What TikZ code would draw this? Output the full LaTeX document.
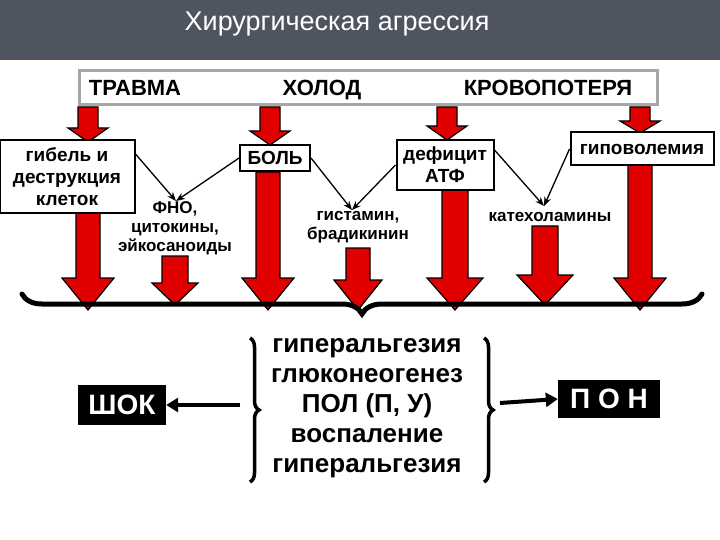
\documentclass[tikz,border=0pt]{standalone}
\usepackage{fontspec}
\setmainfont{Liberation Sans}
\usetikzlibrary{decorations.pathreplacing,arrows.meta}
\definecolor{hdr}{HTML}{4F5461}
\definecolor{arrred}{HTML}{E00000}
\newcommand\redarrow[6]{% x, ytop, ybottom, shaft, headw, headlen
  \draw[blockarr] ({#1-#4/2},#2) -- ({#1-#4/2},{#3-#6}) -- ({#1-#5/2},{#3-#6}) -- (#1,#3)
   -- ({#1+#5/2},{#3-#6}) -- ({#1+#4/2},{#3-#6}) -- ({#1+#4/2},#2) -- cycle;}
\begin{document}
\begin{tikzpicture}[x=1pt,y=-1pt,
  blockarr/.style={fill=arrred,draw=black,line width=1.2pt,line join=miter},
  bx/.style={draw=black,line width=2pt,fill=white,font=\bfseries\fontsize{19}{22}\selectfont,align=center,inner sep=2pt},
  lbl/.style={font=\bfseries\fontsize{17}{19}\selectfont,align=center},
  mid/.style={font=\bfseries\fontsize{26}{30}\selectfont,align=center},
  thin/.style={-{Stealth[length=9pt,width=7pt]},line width=1.3pt},
  tops/.style={font=\bfseries\fontsize{22}{24}\selectfont,anchor=base},
  brc/.style={decorate,line width=5pt,line cap=round}]
\useasboundingbox (0,0) rectangle (720,540);
\fill[white] (0,0) rectangle (720,540);
\fill[hdr] (0,0) rectangle (720,60);
\node[text=white,font=\fontsize{27}{30}\selectfont,anchor=base] (title) at (337,31) {Хирургическая агрессия};
% top box
\node[draw=gray!70,line width=3pt,minimum width=578pt,minimum height=34pt,inner sep=0] (top) at (368,88) {};
\node[tops] (t1) at (135,96) {ТРАВМА};
\node[tops] (t2) at (322,96) {ХОЛОД};
\node[tops] (t3) at (548,96) {КРОВОПОТЕРЯ};
% short arrows
\redarrow{88}{107}{142}{20}{40}{14}
\redarrow{270}{107}{145}{20}{40}{14}
\redarrow{447}{107}{140}{20}{40}{14}
\redarrow{640}{107}{133}{20}{40}{12}
% long arrows
\redarrow{88}{213}{310}{24}{52}{32}
\redarrow{175}{256}{305}{26}{46}{22}
\redarrow{268}{172}{310}{24}{52}{32}
\redarrow{358}{248}{310}{24}{48}{30}
\redarrow{455}{190}{310}{26}{56}{32}
\redarrow{545}{226}{305}{26}{56}{30}
\redarrow{640}{165}{310}{24}{52}{32}
% boxes
\node[bx,minimum width=135pt,minimum height=73pt] (gib) at (67,177) {гибель и\\деструкция\\клеток};
\node[bx,minimum width=70pt,minimum height=26pt] (bol) at (275,158) {БОЛЬ};
\node[bx,minimum width=97pt,minimum height=50pt] (def) at (445,165) {дефицит\\АТФ};
\node[bx,minimum width=143pt,minimum height=33pt] (gip) at (642,149) {гиповолемия};
% labels
\node[lbl] (fno) at (175,228) {ФНО,\\цитокины,\\эйкосаноиды};
\node[lbl] (gis) at (358,227) {гистамин,\\брадикинин};
\node[lbl] (kat) at (550,217) {катехоламины};
\coordinate (fnoT) at (176,201);
\coordinate (gisT) at (352,210);
\coordinate (katT) at (544,206);
\draw[thin] (gib.east |- 0,154) -- (fnoT);
\draw[thin] (bol.west) -- (fnoT);
\draw[thin] (bol.east) -- (gisT);
\draw[thin] (def.west) -- (gisT);
\draw[thin] (def.east |- 0,150) -- (katT);
\draw[thin] (gip.west) -- (katT);
% big brace
\coordinate (bl) at (22,294);
\coordinate (br) at (702,294);
\draw[brc,decoration={brace,mirror,amplitude=20pt,aspect=0.5}] (bl) -- (br);
% middle
\node[mid] (mtext) at (367,408) {гиперальгезия\\глюконеогенез\\ПОЛ (П, У)\\воспаление\\гиперальгезия};
\coordinate (lb1) at (250,338);
\coordinate (lb2) at (250,482);
\coordinate (rb1) at (484,338);
\coordinate (rb2) at (484,482);
\draw[decorate,line width=3.5pt,decoration={brace,amplitude=9pt}] (lb1) -- (lb2);
\draw[decorate,line width=3.5pt,decoration={brace,amplitude=9pt}] (rb1) -- (rb2);
\node[fill=black,text=white,font=\bfseries\fontsize{28}{30}\selectfont,minimum width=88pt,minimum height=40pt,inner sep=0] (shok) at (122,405) {ШОК};
\node[fill=black,text=white,font=\bfseries\fontsize{28}{30}\selectfont,minimum width=102pt,minimum height=38pt,inner sep=0] (pon) at (609,399) {П О Н};
\draw[-{Triangle[length=12pt,width=14pt]},line width=4pt] (240,405) -- (shok.east);
\draw[-{Triangle[length=12pt,width=14pt]},line width=4pt] (500,403) -- (pon.west);
\end{tikzpicture}
\end{document}
